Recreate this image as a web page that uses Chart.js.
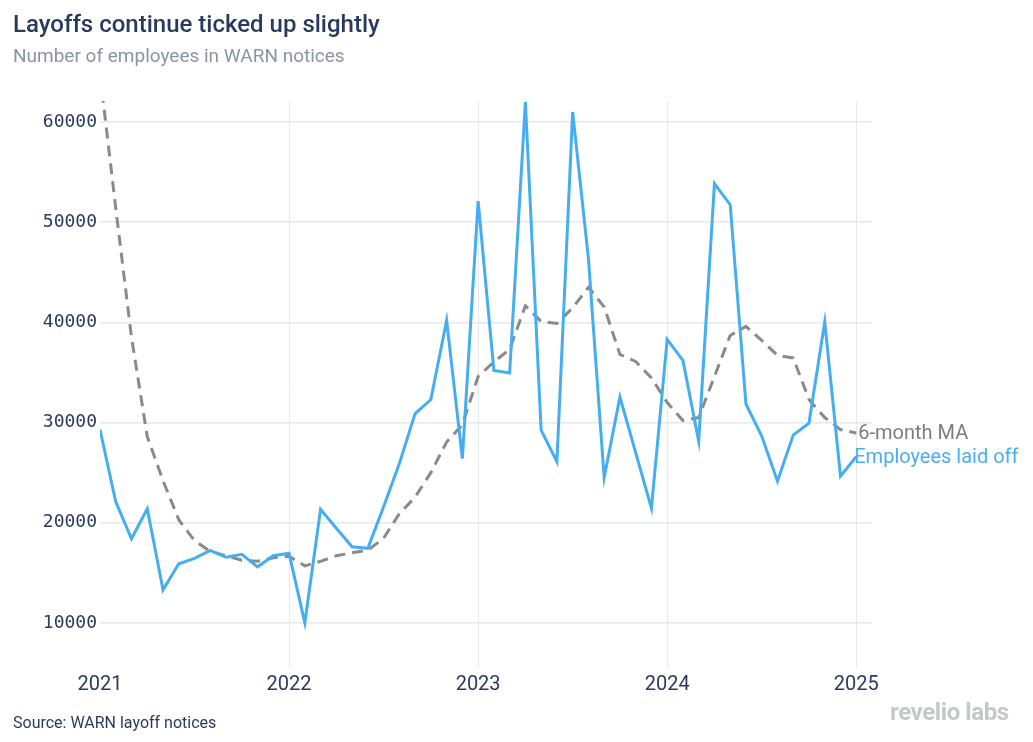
<!DOCTYPE html>
<html>
<head>
<meta charset="utf-8">
<title>Layoffs continue ticked up slightly</title>
<script src="https://cdn.jsdelivr.net/npm/chart.js@4.4.1/dist/chart.umd.min.js"></script>
<style>
  body { margin: 0; background: #fff; font-family: Roboto, "Noto Sans", sans-serif; }
  #wrap { position: relative; width: 1033px; height: 742px; overflow: hidden; }
  #chart { position: absolute; left: 0; top: 0; }
  .title { position: absolute; left: 13px; top: 10px; font-size: 24px; line-height: 28px; font-weight: 500; color: #283a5e; white-space: nowrap; }
  .subtitle { position: absolute; left: 13px; top: 45px; font-size: 19px; line-height: 22px; color: #8a95a1; white-space: nowrap; }
  .source { position: absolute; left: 13px; top: 713px; font-size: 16px; line-height: 20px; color: #2b3b5e; white-space: nowrap; }
  .logo { position: absolute; left: 890px; top: 698px; font-size: 24px; line-height: 28px; font-weight: 700; color: #c4c7cc; letter-spacing: -0.4px; white-space: nowrap; }
</style>
</head>
<body>
<div id="wrap">
  <canvas id="chart" width="1033" height="742"></canvas>
  <div class="title">Layoffs continue ticked up slightly</div>
  <div class="subtitle">Number of employees in WARN notices</div>
  <div class="source">Source: WARN layoff notices</div>
  <div class="logo">revelio labs</div>
</div>
<script>
// monthly WARN notices, Jan 2021 - Jan 2025
var months = [
  "2021-01", "2021-02", "2021-03", "2021-04", "2021-05", "2021-06", "2021-07", "2021-08", "2021-09", "2021-10", "2021-11", "2021-12",
  "2022-01", "2022-02", "2022-03", "2022-04", "2022-05", "2022-06", "2022-07", "2022-08", "2022-09", "2022-10", "2022-11", "2022-12",
  "2023-01", "2023-02", "2023-03", "2023-04", "2023-05", "2023-06", "2023-07", "2023-08", "2023-09", "2023-10", "2023-11", "2023-12",
  "2024-01", "2024-02", "2024-03", "2024-04", "2024-05", "2024-06", "2024-07", "2024-08", "2024-09", "2024-10", "2024-11", "2024-12",
  "2025-01"
];
var laidOff = [
  29300, 22100, 18400, 21400, 13300, 15900, 16450, 17250, 16550, 16850, 15600, 16700,
  16950, 10000, 21350, 19450, 17600, 17450, 21600, 25900, 30900, 32300, 40200, 26400,
  52100, 35200, 34950, 62000, 29250, 26100, 61000, 46400, 24500, 32550, 27000, 21450,
  38300, 36200, 28150, 53850, 51750, 31850, 28650, 24150, 28750, 29950, 40050, 24650,
  26600
];
var movingAvg = [
  64800, 51400, 38500, 28600, 24200, 20300, 18200, 17150, 16700, 16250, 16150, 16500,
  16650, 15700, 16150, 16700, 17000, 17250, 18450, 20900, 22550, 25000, 28050, 29800,
  34600, 36050, 37300, 41650, 40100, 39900, 41450, 43500, 41550, 36800, 36100, 34450,
  32000, 30200, 30500, 34600, 38700, 39600, 38200, 36700, 36450, 32300, 30500, 29300,
  28950
];
var yearLabels = ["2021", "2022", "2023", "2024", "2025"];
var valueTicks = [10000, 20000, 30000, 40000, 50000, 60000];

var seriesNames = ["Employees laid off", "6-month MA"];
var blue = "#45aef0";
var grey = "#8a8a8a";
var ink = "#2b3b5e";

function toPoints(values) {
  var pts = [];
  for (var i = 0; i < values.length; i++) pts.push({ x: i, y: values[i] });
  return pts;
}

var yearPositions = yearLabels.map(function (y) { return months.indexOf(y + "-01"); });

// names written at the end of each line
var endLabels = {
  id: "endLabels",
  afterDatasetsDraw(chart) {
    var ctx = chart.ctx;
    ctx.save();
    ctx.font = "20px Roboto, sans-serif";
    ctx.textBaseline = "middle";
    ctx.textAlign = "left";
    chart.data.datasets.forEach(function (ds, i) {
      var meta = chart.getDatasetMeta(i);
      var last = meta.data[meta.data.length - 1];
      ctx.fillStyle = ds.labelColor;
      ctx.fillText(ds.label, last.x + ds.labelShift, last.y + 1);
    });
    ctx.restore();
  }
};

var config = {
  type: "line",
  data: {
    datasets: [
      {
        label: seriesNames[0],
        data: toPoints(laidOff),
        borderColor: blue,
        backgroundColor: blue,
        borderWidth: 3,
        pointRadius: 0,
        tension: 0,
        labelColor: "#4aaef0",
        labelShift: -2,
      },
      {
        label: seriesNames[1],
        data: toPoints(movingAvg),
        borderColor: grey,
        backgroundColor: grey,
        borderWidth: 3,
        borderDash: [11, 7],
        pointRadius: 0,
        tension: 0,
        labelColor: "#7d7d7d",
        labelShift: 2,
      },
    ],
  },
  options: {
    responsive: false,
    animation: false,
    layout: { padding: { top: 101, right: 161, left: 0, bottom: 0 } },
    plugins: {
      legend: { display: false },
      tooltip: { enabled: false },
    },
    scales: {
      x: {
        type: "linear",
        min: 0,
        max: months.length,
        afterBuildTicks(scale) {
          scale.ticks = yearPositions.map(function (v) { return { value: v }; });
        },
        afterFit(scale) { scale.height = 74; },
        border: { display: false },
        grid: {
          drawTicks: false,
          lineWidth: 1,
          color: function (c) { return c.tick && c.tick.value === 0 ? "rgba(0,0,0,0)" : "#e6e8ee"; },
        },
        ticks: {
          padding: 5,
          color: ink,
          font: { family: "Roboto", size: 20 },
          callback: function (v) { return yearLabels[yearPositions.indexOf(v)]; },
        },
      },
      y: {
        min: 5500,
        max: 62100,
        afterBuildTicks(scale) {
          scale.ticks = valueTicks.map(function (v) { return { value: v }; });
        },
        afterFit(scale) { scale.width = 100; },
        border: { display: false },
        grid: { drawTicks: false, lineWidth: 1.5, color: "#e6e8ee" },
        ticks: {
          padding: 3,
          color: ink,
          font: { family: "'DejaVu Sans Mono', monospace", size: 18 },
          callback: function (v) { return String(v); },
        },
      },
    },
  },
  plugins: [endLabels],
};

new Chart(document.getElementById("chart"), config);
</script>
</body>
</html>
